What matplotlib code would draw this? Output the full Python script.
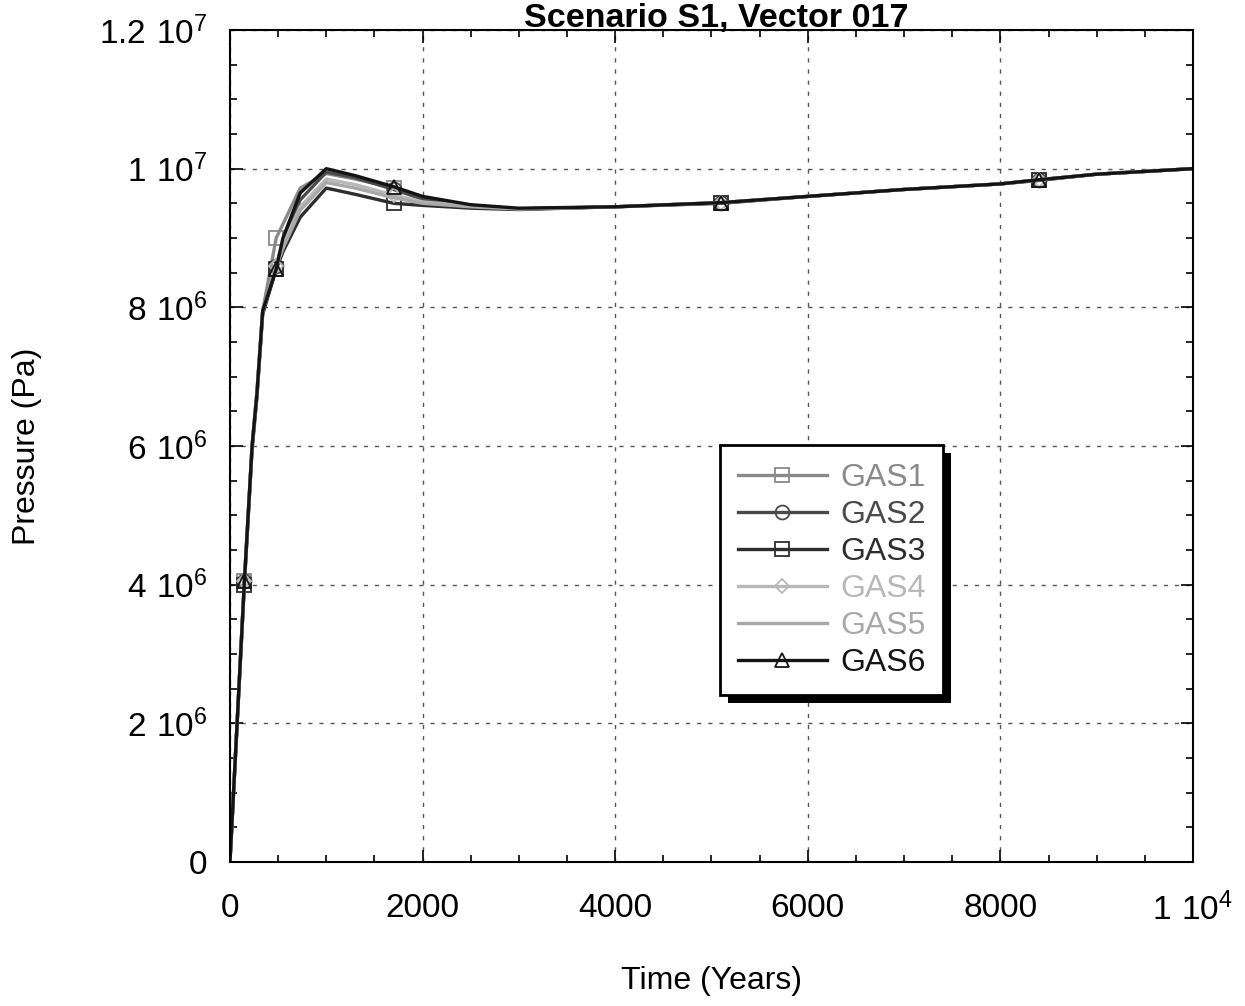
import matplotlib
matplotlib.use("Agg")
import matplotlib.pyplot as plt
from matplotlib.patches import Rectangle
from matplotlib.ticker import MultipleLocator, FixedLocator

plt.rcParams['font.family'] = ['Liberation Sans', 'DejaVu Sans']
plt.rcParams['mathtext.default'] = 'regular'

# time axis (years)
time = [0, 150, 230, 280, 340, 480, 550, 730, 1000, 1300, 1700, 2000, 2500, 3000,
        4000, 5100, 6000, 7000, 8000, 8400, 9000, 10000]

# pressure (Pa) for each gas
gas1 = [0, 4.05e6, 6.0e6, 6.8e6, 7.95e6, 9.0e6, 9.2e6, 9.72e6, 9.93e6, 9.85e6, 9.72e6, 9.58e6,
        9.47e6, 9.42e6, 9.45e6, 9.51e6, 9.6e6, 9.7e6, 9.78e6, 9.84e6, 9.92e6, 1.0e7]
gas2 = [0, 4.05e6, 6.0e6, 6.75e6, 7.95e6, 8.6e6, 8.95e6, 9.55e6, 9.95e6, 9.87e6, 9.7e6, 9.56e6,
        9.47e6, 9.42e6, 9.45e6, 9.51e6, 9.6e6, 9.7e6, 9.78e6, 9.84e6, 9.92e6, 1.0e7]
gas3 = [0, 4.0e6, 5.95e6, 6.7e6, 7.9e6, 8.55e6, 8.8e6, 9.3e6, 9.72e6, 9.63e6, 9.5e6, 9.47e6,
        9.43e6, 9.41e6, 9.45e6, 9.5e6, 9.6e6, 9.7e6, 9.78e6, 9.83e6, 9.92e6, 1.0e7]
gas4 = [0, 4.05e6, 6.0e6, 6.75e6, 7.95e6, 8.6e6, 8.9e6, 9.45e6, 9.85e6, 9.77e6, 9.62e6, 9.52e6,
        9.46e6, 9.42e6, 9.45e6, 9.51e6, 9.6e6, 9.7e6, 9.78e6, 9.84e6, 9.92e6, 1.0e7]
gas5 = [0, 4.05e6, 6.0e6, 6.75e6, 7.95e6, 8.58e6, 8.85e6, 9.4e6, 9.8e6, 9.72e6, 9.58e6, 9.5e6,
        9.45e6, 9.42e6, 9.45e6, 9.51e6, 9.6e6, 9.7e6, 9.78e6, 9.84e6, 9.92e6, 1.0e7]
gas6 = [0, 4.05e6, 6.0e6, 6.75e6, 7.95e6, 8.55e6, 9.0e6, 9.65e6, 1.0e7, 9.9e6, 9.74e6, 9.6e6,
        9.48e6, 9.43e6, 9.45e6, 9.51e6, 9.6e6, 9.7e6, 9.78e6, 9.84e6, 9.92e6, 1.0e7]

labels = ["GAS1", "GAS2", "GAS3", "GAS4", "GAS5", "GAS6"]
series = [gas1, gas2, gas3, gas4, gas5, gas6]
colors = ["#8a8a8a", "#4a4a4a", "#2e2e2e", "#b8b8b8", "#a8a8a8", "#141414"]
markers = ["s", "o", "s", "D", "", "^"]
mark_idx = [1, 5, 10, 15, 19]

xticks = [0, 2000, 4000, 6000, 8000, 10000]
xticklabels = ["0", "2000", "4000", "6000", "8000", r"$1\ 10^{4}$"]
yticks = [0, 2e6, 4e6, 6e6, 8e6, 1e7, 1.2e7]
yticklabels = ["0", r"$2\ 10^{6}$", r"$4\ 10^{6}$", r"$6\ 10^{6}$", r"$8\ 10^{6}$",
               r"$1\ 10^{7}$", r"$1.2\ 10^{7}$"]

fig = plt.figure(figsize=(12.45, 10.06), dpi=100)
ax = fig.add_axes([0.1847, 0.1431, 0.9582 - 0.1847, 0.9702 - 0.1431])

for lab, vals, c, m in zip(labels, series, colors, markers):
    ax.plot(time, vals, color=c, lw=2.4, marker=m if m else None, markevery=mark_idx,
            markersize=10 if m != "D" else 7, markerfacecolor="none",
            markeredgecolor=c, markeredgewidth=1.3, label=lab)

ax.set_xlim(0, 10000)
ax.set_ylim(0, 1.2e7)
ax.xaxis.set_major_locator(FixedLocator(xticks))
ax.yaxis.set_major_locator(FixedLocator(yticks))
ax.set_xticklabels(xticklabels)
ax.set_yticklabels(yticklabels)
ax.xaxis.set_minor_locator(MultipleLocator(500))
ax.yaxis.set_minor_locator(MultipleLocator(5e5))
ax.tick_params(which="both", direction="in", top=True, right=True, width=1.2)
ax.tick_params(which="major", length=9)
ax.tick_params(which="minor", length=5)
ax.tick_params(axis="x", labelsize=24, pad=22)
ax.tick_params(axis="y", labelsize=24, pad=16)
ax.grid(True, which="major", color="#555555", linestyle=(0, (3, 5)), lw=1)
for s in ax.spines.values():
    s.set_linewidth(1.5)

ax.set_xlabel("Time (Years)", fontsize=23, labelpad=28)
ax.set_ylabel("Pressure (Pa)", fontsize=23, labelpad=41)
fig.text(0.575, 1 - 27 / 1006, "Scenario S1, Vector 017", fontsize=24.5,
         fontweight="bold", ha="center", va="baseline")

leg = ax.legend(loc="upper left", bbox_to_anchor=(0.509, 0.501), fontsize=23,
                labelcolor="linecolor", fancybox=False, framealpha=1,
                edgecolor="black", handlelength=2.8, handletextpad=0.4,
                labelspacing=0.22, borderpad=0.55, borderaxespad=0)
leg.get_frame().set_linewidth(2)

fig.canvas.draw()
bb = leg.get_window_extent()
shadow = Rectangle((bb.x0 + 8, bb.y0 - 8), bb.width, bb.height, transform=None,
                   facecolor="black", edgecolor="none", zorder=4.5, clip_on=False)
ax.add_artist(shadow)

fig.savefig("out.png", dpi=100)
